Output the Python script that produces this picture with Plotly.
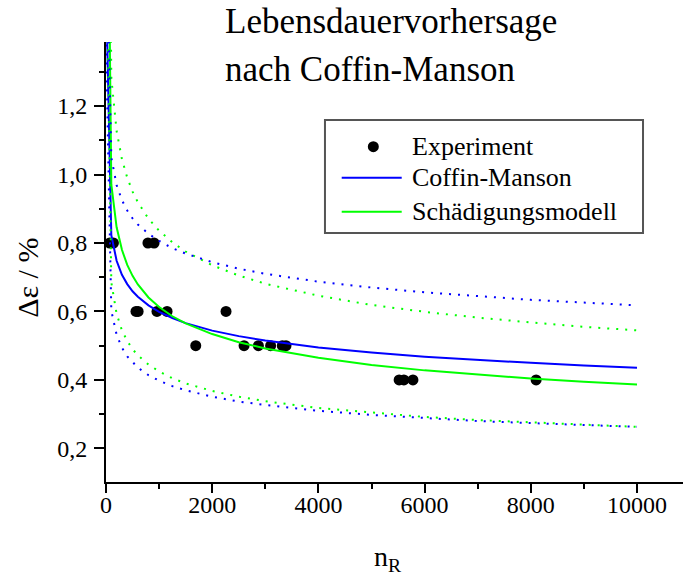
import plotly.graph_objects as go

# Experimental fatigue results: cycles to failure and strain range
exp_n = [70, 140, 790, 905, 565, 605, 960, 1150, 2260, 1690, 2600, 2870, 3100, 3320, 3390, 5520, 5610, 5780, 8100]
exp_eps = [0.8, 0.8, 0.8, 0.8, 0.6, 0.6, 0.6, 0.6, 0.6, 0.5, 0.5, 0.5, 0.5, 0.5, 0.5, 0.4, 0.4, 0.4, 0.4]

# Model curves evaluated at these cycle numbers
n_grid = [1, 100, 200, 300, 400, 500, 600, 800, 1000, 1250, 1500, 2000, 2500, 3000,
          4000, 5000, 6000, 7000, 8000, 9000, 10000]

# Coffin-Manson prediction with upper / lower scatter band
cm_mid = [1.554, 0.823, 0.748, 0.707, 0.680, 0.659, 0.643, 0.618, 0.599, 0.581, 0.566,
          0.544, 0.528, 0.515, 0.495, 0.480, 0.468, 0.458, 0.450, 0.442, 0.436]
cm_upper = [1.783, 1.050, 0.969, 0.925, 0.895, 0.872, 0.854, 0.827, 0.806, 0.785, 0.769,
            0.744, 0.725, 0.710, 0.687, 0.670, 0.656, 0.644, 0.634, 0.626, 0.618]
cm_lower = [1.380, 0.602, 0.532, 0.494, 0.469, 0.451, 0.436, 0.414, 0.398, 0.382, 0.370,
            0.351, 0.337, 0.327, 0.310, 0.298, 0.288, 0.280, 0.274, 0.268, 0.263]

# Damage model (Schädigungsmodell) prediction with scatter band
dm_mid = [2.440, 0.971, 0.846, 0.780, 0.736, 0.704, 0.679, 0.641, 0.613, 0.586, 0.565,
          0.534, 0.510, 0.492, 0.465, 0.444, 0.428, 0.415, 0.404, 0.395, 0.387]
dm_upper = [3.020, 1.282, 1.127, 1.045, 0.991, 0.950, 0.919, 0.871, 0.836, 0.802, 0.775,
            0.735, 0.705, 0.681, 0.646, 0.619, 0.599, 0.582, 0.568, 0.555, 0.545]
dm_lower = [1.786, 0.685, 0.593, 0.545, 0.514, 0.490, 0.472, 0.445, 0.425, 0.405, 0.390,
            0.368, 0.351, 0.338, 0.318, 0.304, 0.292, 0.283, 0.276, 0.269, 0.263]

x_ticks = [0, 2000, 4000, 6000, 8000, 10000]
x_labels = ["0", "2000", "4000", "6000", "8000", "10000"]
y_ticks = [0.2, 0.4, 0.6, 0.8, 1.0, 1.2]
y_labels = ["0,2", "0,4", "0,6", "0,8", "1,0", "1,2"]

legend_names = ["Experiment", "Coffin-Manson", "Schädigungsmodell"]

BLUE = "#0000ff"
GREEN = "#00ff00"
FONT = "Liberation Serif, Times New Roman, serif"
DOT = "2px,7px"

fig = go.Figure()

fig.add_trace(go.Scatter(
    x=exp_n, y=exp_eps, mode="markers", name=legend_names[0], showlegend=False,
    marker=dict(color="black", size=11), cliponaxis=False))

fig.add_trace(go.Scatter(x=n_grid, y=cm_mid, mode="lines", name=legend_names[1],
                         showlegend=False, line=dict(color=BLUE, width=2)))
fig.add_trace(go.Scatter(x=n_grid, y=dm_mid, mode="lines", name=legend_names[2],
                         showlegend=False, line=dict(color=GREEN, width=2)))

for ys, col in [(dm_upper, GREEN), (dm_lower, GREEN), (cm_upper, BLUE), (cm_lower, BLUE)]:
    fig.add_trace(go.Scatter(x=n_grid, y=ys, mode="lines", showlegend=False,
                             line=dict(color=col, width=2, dash=DOT)))

axis_common = dict(
    showgrid=False, zeroline=False, showline=True, linecolor="black", linewidth=2,
    ticks="outside", tickwidth=2, tickcolor="black",
    tickfont=dict(family=FONT, size=24, color="black"),
)

fig.update_xaxes(range=[0, 10866], tickmode="array", tickvals=x_ticks, ticktext=x_labels,
                 ticklen=9, ticklabelstandoff=-9,
                 minor=dict(ticks="outside", ticklen=5, tickwidth=2, tickcolor="black",
                            dtick=1000, tick0=0),
                 **axis_common)
fig.update_yaxes(range=[0.102, 1.387], tickmode="array", tickvals=y_ticks, ticktext=y_labels,
                 ticklen=10, ticklabelstandoff=2,
                 minor=dict(ticks="outside", ticklen=5, tickwidth=2, tickcolor="black",
                            dtick=0.1, tick0=0),
                 **axis_common)

# Legend box drawn in paper coordinates
L_X0, L_X1, L_Y0, L_Y1 = 0.3795, 0.9307, 0.5659, 0.8227
ROW_Y = [0.762, 0.6916, 0.6143]
SAMPLE_X0, SAMPLE_X1, TEXT_X = 0.4085, 0.5125, 0.5269
DOT_X = 0.4633

shapes = [
    dict(type="rect", xref="paper", yref="paper", x0=L_X0, x1=L_X1, y0=L_Y0, y1=L_Y1,
         line=dict(color="#555555", width=2), fillcolor="white", layer="above"),
    dict(type="circle", xref="paper", yref="paper", xsizemode="pixel", ysizemode="pixel",
         xanchor=DOT_X, yanchor=ROW_Y[0], x0=-5.5, x1=5.5, y0=-5.5, y1=5.5,
         fillcolor="black", line=dict(color="black", width=0), layer="above"),
    dict(type="line", xref="paper", yref="paper", x0=SAMPLE_X0, x1=SAMPLE_X1,
         y0=ROW_Y[1], y1=ROW_Y[1], line=dict(color=BLUE, width=2), layer="above"),
    dict(type="line", xref="paper", yref="paper", x0=SAMPLE_X0, x1=SAMPLE_X1,
         y0=ROW_Y[2], y1=ROW_Y[2], line=dict(color=GREEN, width=2), layer="above"),
]

annotations = [
    dict(text=name, x=TEXT_X, y=yy, xref="paper", yref="paper", xanchor="left",
         yanchor="middle", showarrow=False, font=dict(family=FONT, size=26, color="black"))
    for name, yy in zip(legend_names, ROW_Y)
]
annotations += [
    dict(text="Lebensdauervorhersage", x=0.203, y=1.0455, xref="paper", yref="paper",
         xanchor="left", yanchor="middle", showarrow=False,
         font=dict(family=FONT, size=35, color="black")),
    dict(text="nach Coffin-Manson", x=0.203, y=0.9386, xref="paper", yref="paper",
         xanchor="left", yanchor="middle", showarrow=False,
         font=dict(family=FONT, size=35, color="black")),
    dict(text="Δε / %", x=-0.136, y=0.463, xref="paper", yref="paper",
         xanchor="center", yanchor="middle", textangle=-90, showarrow=False,
         font=dict(family=FONT, size=30, color="black")),
    dict(text="n<sub>R</sub>", x=0.489, y=-0.173, xref="paper", yref="paper",
         xanchor="center", yanchor="middle", showarrow=False,
         font=dict(family=FONT, size=28, color="black")),
]

fig.update_layout(
    width=683, height=580,
    margin=dict(l=106, r=0, t=42, b=98),
    paper_bgcolor="white", plot_bgcolor="white",
    font=dict(family=FONT, color="black"),
    showlegend=False,
    shapes=shapes,
    annotations=annotations,
)

fig.write_html("out.html")
